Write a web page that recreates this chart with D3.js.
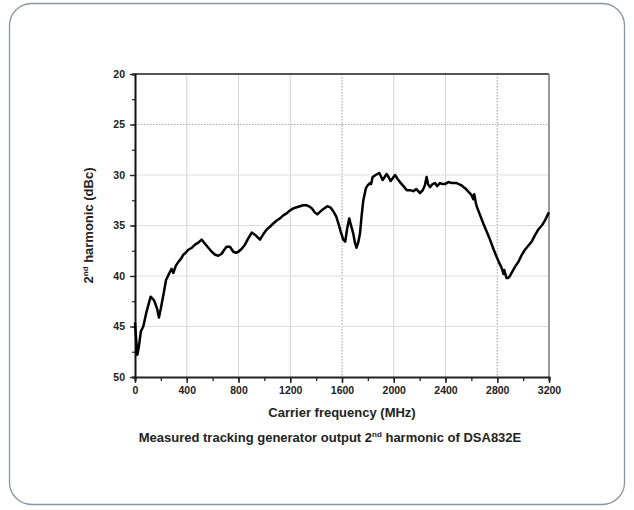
<!DOCTYPE html>
<html><head><meta charset="utf-8">
<script src="https://cdn.jsdelivr.net/npm/d3@7/dist/d3.min.js"></script>
<style>
body{margin:0;background:#fff;}
svg{display:block;font-family:"Liberation Sans",Arial,sans-serif;}
</style></head>
<body>
<svg id="c" width="634" height="510"></svg>
<script>
const freqMHz = [0,10,18,30,45,64,90,121,147,170,185,200,219,240,262,283,296,315,335,355,373,392,412,440,464,490,515,541,567,593,620,644,670,690,708,734,760,780,799,825,850,870,902,935,966,990,1018,1045,1069,1095,1121,1146,1172,1198,1224,1250,1275,1300,1327,1345,1366,1390,1409,1425,1443,1465,1486,1510,1533,1555,1572,1590,1610,1625,1640,1656,1670,1687,1700,1712,1725,1739,1752,1765,1785,1800,1816,1825,1837,1860,1888,1900,1914,1930,1945,1960,1976,1993,2010,2030,2048,2075,2100,2125,2151,2175,2203,2225,2241,2254,2265,2280,2300,2319,2335,2357,2380,2396,2422,2450,2486,2520,2551,2580,2602,2615,2622,2628,2635,2641,2665,2692,2718,2744,2770,2795,2815,2834,2848,2855,2860,2872,2885,2898,2911,2937,2963,2990,3014,3040,3066,3090,3117,3145,3169,3195,3200];
const harmonicDBc = [44.6,46.5,47.8,47.0,45.5,45.0,43.5,42.05,42.4,43.2,44.1,43.2,41.9,40.4,39.8,39.3,39.7,39.0,38.6,38.3,37.9,37.7,37.4,37.2,36.9,36.7,36.4,36.8,37.2,37.6,37.9,38.0,37.8,37.4,37.1,37.1,37.6,37.7,37.6,37.3,36.9,36.4,35.7,36.0,36.4,35.9,35.4,35.1,34.8,34.5,34.3,34.0,33.8,33.5,33.3,33.2,33.1,33.0,33.0,33.1,33.3,33.7,33.9,33.7,33.5,33.3,33.1,33.2,33.6,34.1,34.8,35.6,36.4,36.6,35.3,34.3,35.0,35.8,36.7,37.2,36.7,35.8,34.0,32.5,31.3,31.0,30.8,30.9,30.2,30.0,29.8,30.1,30.5,30.2,29.9,30.2,30.6,30.3,30.0,30.4,30.7,31.1,31.5,31.5,31.6,31.4,31.8,31.5,31.0,30.2,30.9,31.2,30.9,30.8,31.1,30.8,30.9,30.9,30.7,30.8,30.8,31.0,31.3,31.7,32.0,32.4,31.9,32.3,32.8,33.1,33.9,34.8,35.6,36.4,37.3,38.1,38.7,39.2,39.8,39.4,39.7,40.2,40.2,40.0,39.7,39.1,38.6,37.9,37.4,37.0,36.6,36.0,35.4,35.0,34.5,33.8,33.7];
const xTicks = [0,400,800,1200,1600,2000,2400,2800,3200];
const yTicks = [20,25,30,35,40,45,50];
const xTitle = "Carrier frequency (MHz)";
const caption = ["Measured tracking generator output 2","nd"," harmonic of DSA832E"];

const svg = d3.select("#c");
svg.append("rect").attr("x",9.5).attr("y",3.5).attr("width",615).attr("height",501)
  .attr("rx",22).attr("fill","#fff").attr("stroke","#8696a2").attr("stroke-width",1.3);

const L=135,R=549,T=74,B=377;
const x = d3.scaleLinear().domain([0,3200]).range([L,R]);
const y = d3.scaleLinear().domain([20,50]).range([T,B]);

const g = svg.append("g");
// grid
g.selectAll(".vg").data(xTicks.filter(v=>v>0&&v<3200)).join("line")
  .attr("x1",d=>x(d)).attr("x2",d=>x(d)).attr("y1",T).attr("y2",B)
  .attr("stroke",d=>(d===1600||d===2800)?"#9a9a9a":"#d4d4d4")
  .attr("stroke-width",1)
  .attr("stroke-dasharray",d=>(d===1600||d===2800)?"1.5,1.5":null);
g.selectAll(".hg").data(yTicks.filter(v=>v>20&&v<50)).join("line")
  .attr("x1",L).attr("x2",R).attr("y1",d=>y(d)).attr("y2",d=>y(d))
  .attr("stroke",d=>d===25?"#a8a8a8":"#dedede").attr("stroke-width",1)
  .attr("stroke-dasharray",d=>d===25?"1.5,1.5":null);

// frame
g.append("line").attr("x1",L).attr("x2",R).attr("y1",T).attr("y2",T).attr("stroke","#555").attr("stroke-width",2);
g.append("line").attr("x1",R).attr("x2",R).attr("y1",T).attr("y2",B).attr("stroke","#777").attr("stroke-width",1.5);

const FONT = "'Liberation Sans',Arial,sans-serif";
// axes
const xMinor = d3.range(0,3201,200);
const xAx = g.append("g").attr("transform",`translate(0,${B})`)
  .call(d3.axisBottom(x).tickValues(xMinor).tickSize(4).tickFormat(""));
xAx.select(".domain").attr("stroke","#222").attr("stroke-width",2);
xAx.selectAll(".tick line").attr("stroke","#222").attr("stroke-width",1.3);
const xAxM = g.append("g").attr("transform",`translate(0,${B})`)
  .call(d3.axisBottom(x).tickValues(xTicks).tickSize(6).tickPadding(4).tickFormat(d3.format("d")));
xAxM.select(".domain").remove();
xAxM.selectAll(".tick line").attr("stroke","#222").attr("stroke-width",1.5);
xAxM.selectAll("text").attr("font-size",10.5).attr("font-weight","bold").attr("fill","#222")
  .attr("font-family",FONT);

const yMinor = d3.range(20,50.01,2.5);
const yAx = g.append("g").attr("transform",`translate(${L},0)`)
  .call(d3.axisLeft(y).tickValues(yMinor).tickSize(3).tickFormat(""));
yAx.select(".domain").attr("stroke","#111").attr("stroke-width",2);
yAx.selectAll(".tick line").attr("stroke","#222").attr("stroke-width",1.2);
const yAxM = g.append("g").attr("transform",`translate(${L},0)`)
  .call(d3.axisLeft(y).tickValues(yTicks).tickSize(5).tickPadding(5).tickFormat(d3.format("d")));
yAxM.select(".domain").remove();
yAxM.selectAll(".tick line").attr("stroke","#222").attr("stroke-width",1.3);
yAxM.selectAll("text").attr("font-size",10.5).attr("font-weight","bold").attr("fill","#222")
  .attr("font-family",FONT);

// line
const line = d3.line().x((d,i)=>x(freqMHz[i])).y(d=>y(d)).curve(d3.curveLinear);
g.append("path").datum(harmonicDBc).attr("d",line).attr("fill","none")
  .attr("stroke","#000").attr("stroke-width",2.5).attr("stroke-linejoin","round");

// titles
svg.append("text").attr("x",(L+R)/2).attr("y",417).attr("text-anchor","middle")
  .attr("font-size",13).attr("font-weight","bold").attr("fill","#222").text(xTitle);
const yl = svg.append("text").attr("transform",`translate(93,${(T+B)/2}) rotate(-90)`)
  .attr("text-anchor","middle").attr("font-size",13).attr("font-weight","bold").attr("fill","#222");
yl.append("tspan").text("2");
yl.append("tspan").attr("dy",-5).attr("font-size",8).text("nd");
yl.append("tspan").attr("dy",5).text(" harmonic (dBc)");

const cap = svg.append("text").attr("x",330).attr("y",442).attr("text-anchor","middle")
  .attr("font-size",13).attr("font-weight","bold").attr("fill","#222");
cap.append("tspan").text(caption[0]);
cap.append("tspan").attr("dy",-5).attr("font-size",8).text(caption[1]);
cap.append("tspan").attr("dy",5).text(caption[2]);
</script>
</body></html>
